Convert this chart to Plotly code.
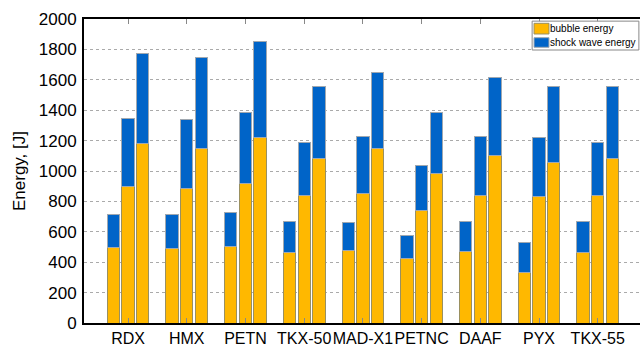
import plotly.graph_objects as go

categories = ["RDX", "HMX", "PETN", "TKX-50", "MAD-X1", "PETNC", "DAAF", "PYX", "TKX-55"]

# three bars per explosive: (bubble energy, total energy)
bubble_1 = [495, 487, 502, 465, 478, 423, 472, 331, 463]
total_1 = [715, 715, 728, 667, 658, 577, 667, 528, 667]
bubble_2 = [897, 886, 919, 836, 851, 739, 836, 829, 836]
total_2 = [1347, 1340, 1383, 1189, 1228, 1035, 1224, 1219, 1189]
bubble_3 = [1182, 1149, 1219, 1083, 1149, 985, 1103, 1053, 1082]
total_3 = [1776, 1747, 1850, 1555, 1651, 1386, 1618, 1555, 1555]

yticks = [0, 200, 400, 600, 800, 1000, 1200, 1400, 1600, 1800, 2000]
series_names = ["bubble energy", "shock wave energy"]

ORANGE = "#FFB800"
BLUE = "#0064C8"
FONT = "Liberation Sans"

xs, bub, shock = [], [], []
offsets = [-0.25, 0.0, 0.25]
for j, (b, t) in enumerate([(bubble_1, total_1), (bubble_2, total_2), (bubble_3, total_3)]):
    for i in range(len(categories)):
        xs.append(i + 1 + offsets[j])
        bub.append(b[i])
        shock.append(t[i] - b[i])

fig = go.Figure()
fig.add_trace(go.Bar(x=xs, y=bub, width=0.21, name=series_names[0], showlegend=False,
                     marker=dict(color=ORANGE, line=dict(color="#9a9060", width=1))))
fig.add_trace(go.Bar(x=xs, y=shock, width=0.21, name=series_names[1], showlegend=False,
                     marker=dict(color=BLUE, line=dict(color="#a0a8b0", width=1))))

# legend box drawn in paper coordinates (top-right corner)
legend_shapes = [
    dict(type="rect", xref="paper", yref="paper", x0=0.806, x1=0.998, y0=0.898, y1=0.993,
         fillcolor="white", line=dict(color="#888888", width=1), layer="above"),
    dict(type="rect", xref="paper", yref="paper", x0=0.8094, x1=0.8363, y0=0.9507, y1=0.9858,
         fillcolor=ORANGE, line=dict(color="#9a9060", width=1), layer="above"),
    dict(type="rect", xref="paper", yref="paper", x0=0.8094, x1=0.8363, y0=0.9069, y1=0.9385,
         fillcolor=BLUE, line=dict(color="#a0a8b0", width=1), layer="above"),
]
legend_texts = [
    dict(text=series_names[0], xref="paper", yref="paper", x=0.836, y=0.968,
         xanchor="left", yanchor="middle", showarrow=False, borderpad=0,
         font=dict(family=FONT, size=10, color="black")),
    dict(text=series_names[1], xref="paper", yref="paper", x=0.836, y=0.923,
         xanchor="left", yanchor="middle", showarrow=False, borderpad=0,
         font=dict(family=FONT, size=10, color="black")),
]

fig.update_layout(
    width=641, height=347,
    margin=dict(l=84, r=1, t=19, b=24, autoexpand=False),
    barmode="stack",
    paper_bgcolor="white", plot_bgcolor="white",
    font=dict(family=FONT, size=17, color="black"),
    showlegend=False,
    shapes=legend_shapes,
    annotations=legend_texts,
    xaxis=dict(range=[0.25, 9.72], tickmode="array", tickvals=list(range(1, 10)),
               ticktext=categories, tickangle=0, automargin=False,
               showline=True, linecolor="black", linewidth=2, mirror="ticks",
               ticks="inside", ticklen=5, tickcolor="#888888",
               showgrid=False, zeroline=False,
               tickfont=dict(family=FONT, size=16)),
    yaxis=dict(range=[0, 2000], tickmode="array", tickvals=yticks, automargin=False,
               showline=True, linecolor="black", linewidth=2,
               showgrid=True, gridcolor="#aaaaaa", griddash="dot", gridwidth=1,
               zeroline=False, ticks="", ticklabelstandoff=2,
               tickfont=dict(family=FONT, size=17),
               title=dict(text="Energy, [J]", standoff=9, font=dict(family=FONT, size=17))),
)

fig.write_html("out.html", config={"displayModeBar": False},
               post_script="document.body.style.margin='0';document.body.style.overflow='hidden';")
